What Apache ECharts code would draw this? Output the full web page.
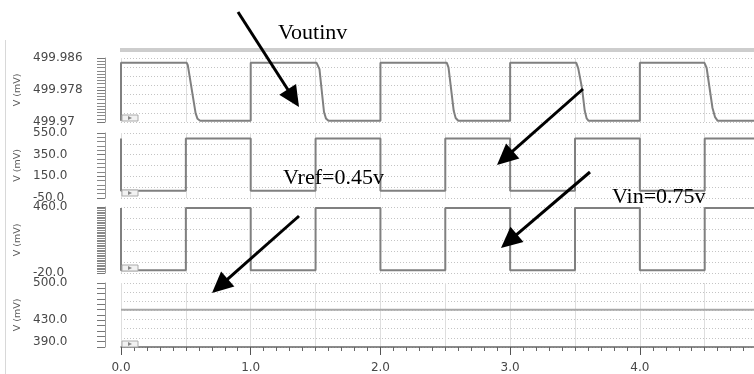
<!DOCTYPE html>
<html>
<head>
<meta charset="utf-8">
<script src="https://cdn.jsdelivr.net/npm/echarts@6/dist/echarts.min.js"></script>
<style>
html, body { margin: 0; padding: 0; background: #fff; }
#chart { width: 754px; height: 374px; }
</style>
</head>
<body>
<div id="chart"></div>
<script>
// time axis
const timeMax = 4.88;

// panel 1 - Voutinv (mV)
const voutinvTimes = [0, 0, 0.507, 0.515, 0.575, 0.59, 0.61, 1.0, 1.0,
    1.508, 1.53, 1.565, 1.58, 1.6, 2.0, 2.0,
    2.512, 2.525, 2.565, 2.58, 2.6, 3.0, 3.0,
    3.51, 3.525, 3.555, 3.575, 3.59, 3.605, 4.0, 4.0,
    4.498, 4.515, 4.56, 4.58, 4.6, 4.88];
const voutinvValues = [499.9703, 499.9848, 499.9848, 499.9842, 499.9722, 499.9708, 499.9703, 499.9703, 499.9848,
    499.9848, 499.9832, 499.9725, 499.9709, 499.9703, 499.9703, 499.9848,
    499.9848, 499.9836, 499.9728, 499.9710, 499.9703, 499.9703, 499.9848,
    499.9848, 499.9834, 499.9783, 499.9728, 499.9709, 499.9703, 499.9703, 499.9848,
    499.9848, 499.9835, 499.9735, 499.9712, 499.9703, 499.9703];

// panel 2 - vout (mV)
const voutTimes = [0, 0, 0.5, 0.5, 1, 1, 1.5, 1.5, 2, 2, 2.5, 2.5, 3, 3, 3.5, 3.5, 4, 4, 4.5, 4.5, 4.88];
const voutValues = [500, 18, 18, 500, 500, 18, 18, 500, 500, 18, 18, 500, 500, 18, 18, 500, 500, 18, 18, 500, 500];

// panel 3 - vin (mV)
const vinTimes = [0, 0, 0.5, 0.5, 1, 1, 1.5, 1.5, 2, 2, 2.5, 2.5, 3, 3, 3.5, 3.5, 4, 4, 4.5, 4.5, 4.88];
const vinValues = [452, 0, 0, 452, 452, 0, 0, 452, 452, 0, 0, 452, 452, 0, 0, 452, 452, 0, 0, 452, 452];

// panel 4 - vref (mV)
const vrefTimes = [0, 4.88];
const vrefValues = [450, 450];

function zip(ts, vs) {
    return ts.map((t, i) => [t, vs[i]]);
}

const labelFont = 'DejaVu Sans';
const serif = '"Liberation Serif", "Times New Roman", serif';

// panel layout
const panels = [
    { top: 58, height: 64, min: 499.97, max: 499.986, interval: 0.008, minor: 10, rows: 7,
      fmt: v => String(parseFloat(v.toFixed(3))) },
    { top: 133, height: 65, min: -50, max: 550, interval: 200, minor: 5, rows: 6,
      fmt: v => v.toFixed(1) },
    { top: 207, height: 66, min: -20, max: 460, interval: 480, minor: 40, rows: 6,
      fmt: v => v.toFixed(1) },
    { top: 283, height: 70, min: 380, max: 500, interval: 10, minor: 0, rows: 7,
      fmt: v => ([390, 430, 500].indexOf(Math.round(v)) >= 0 ? v.toFixed(1) : '') }
];

const grids = [];
const xAxes = [];
const yAxes = [];
panels.forEach((p, i) => {
    grids.push({ left: 121, right: 0, top: p.top, height: p.height });
    // vertical grid lines
    xAxes.push({
        gridIndex: i, type: 'value', min: 0, max: timeMax, interval: 0.5,
        axisLine: { show: false }, axisTick: { show: false }, axisLabel: { show: false },
        splitLine: { show: true, lineStyle: { color: '#dedede', width: 1 } }
    });
    // value axis with ruler ticks
    yAxes.push({
        gridIndex: i, type: 'value', position: 'left', offset: 16,
        min: p.min, max: p.max, interval: p.interval,
        axisLine: { show: true, onZero: false, lineStyle: { color: '#999', width: 1 } },
        axisTick: { show: true, length: 8, lineStyle: { color: '#777' } },
        minorTick: { show: p.minor > 0, splitNumber: p.minor || 5, length: 8, lineStyle: { color: '#888' } },
        splitLine: { show: false },
        axisLabel: { align: 'left', margin: 72, color: '#484848', fontSize: 12, fontFamily: labelFont, formatter: p.fmt },
        name: 'V (mV)', nameLocation: 'middle', nameGap: 82,
        nameTextStyle: { color: '#5a5a5a', fontSize: 9.5, fontFamily: labelFont }
    });
    // dotted horizontal grid lines
    yAxes.push({
        gridIndex: i, type: 'value', position: 'right', min: 0, max: p.rows, interval: 1,
        axisLine: { show: false }, axisTick: { show: false }, axisLabel: { show: false },
        splitLine: { show: true, lineStyle: { color: '#c4c4c4', width: 1, type: [1, 2] } }
    });
});

// time axis at the bottom
xAxes.push({
    gridIndex: 3, type: 'value', position: 'bottom', min: 0, max: timeMax, interval: 1,
    axisLine: { show: true, onZero: false, lineStyle: { color: '#666', width: 1.5 } },
    axisTick: { show: true, length: 8, lineStyle: { color: '#555' } },
    minorTick: { show: true, splitNumber: 10, length: 4, lineStyle: { color: '#666' } },
    splitLine: { show: false },
    axisLabel: {
        color: '#484848', fontSize: 12, fontFamily: labelFont, margin: 15, showMaxLabel: false,
        formatter: v => (Math.abs(v - Math.round(v)) < 1e-6 ? v.toFixed(1) : '')
    }
});

const waves = [
    zip(voutinvTimes, voutinvValues),
    zip(voutTimes, voutValues),
    zip(vinTimes, vinValues),
    zip(vrefTimes, vrefValues)
];
const series = waves.map((d, i) => ({
    type: 'line',
    xAxisIndex: i,
    yAxisIndex: i * 2,
    data: d,
    showSymbol: false,
    silent: true,
    lineStyle: { color: i === 3 ? '#a8a8a8' : '#808080', width: 2 }
}));

// annotation arrows
function arrow(x1, y1, x2, y2) {
    const dx = x2 - x1, dy = y2 - y1, len = Math.hypot(dx, dy);
    const ux = dx / len, uy = dy / len, hl = 21, hw = 10;
    const bx = x2 - ux * hl, by = y2 - uy * hl;
    return [
        { type: 'line', z: 100, shape: { x1: x1, y1: y1, x2: bx + ux * 2, y2: by + uy * 2 },
          style: { stroke: '#000', lineWidth: 3 } },
        { type: 'polygon', z: 100, shape: { points: [[x2, y2], [bx - uy * hw, by + ux * hw], [bx + uy * hw, by - ux * hw]] },
          style: { fill: '#000' } }
    ];
}

function marker(bottom) {
    return [
        { type: 'rect', z: 50, shape: { x: 122, y: bottom - 7, width: 16, height: 6 },
          style: { fill: '#f2f2f2', stroke: '#aaa', lineWidth: 1 } },
        { type: 'polygon', z: 51, shape: { points: [[128, bottom - 6], [128, bottom - 2], [132, bottom - 4]] },
          style: { fill: '#888' } }
    ];
}

const graphic = [
    { type: 'line', shape: { x1: 5.5, y1: 40, x2: 5.5, y2: 374 }, style: { stroke: '#d8d8d8', lineWidth: 1 } },
    { type: 'rect', shape: { x: 120, y: 48, width: 634, height: 4 }, style: { fill: '#cdcdcd' } },
    ...marker(122), ...marker(197), ...marker(272), ...marker(348),
    { type: 'text', z: 100, style: { text: 'Voutinv', x: 278, y: 33, font: '22px ' + serif, fill: '#000', verticalAlign: 'middle' } },
    { type: 'text', z: 100, style: { text: 'Vref=0.45v', x: 283, y: 178, font: '22px ' + serif, fill: '#000', verticalAlign: 'middle' } },
    { type: 'text', z: 100, style: { text: 'Vin=0.75v', x: 612, y: 197, font: '22px ' + serif, fill: '#000', verticalAlign: 'middle' } },
    ...arrow(238, 12, 299, 107),
    ...arrow(583, 89, 497, 165),
    ...arrow(590, 172, 501, 248),
    ...arrow(299, 216, 212, 293)
];

const chart = echarts.init(document.getElementById('chart'));
chart.setOption({
    animation: false,
    backgroundColor: '#fff',
    grid: grids,
    xAxis: xAxes,
    yAxis: yAxes,
    series: series,
    graphic: graphic
});
</script>
</body>
</html>
